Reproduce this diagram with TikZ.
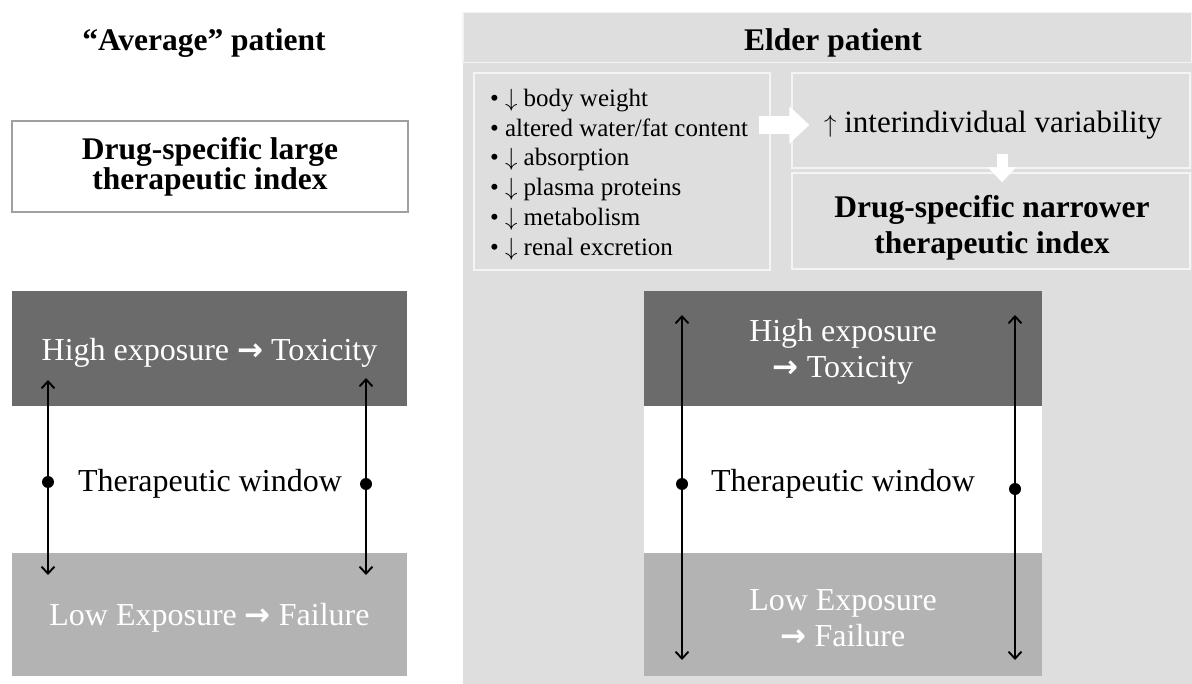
\documentclass[tikz,border=0pt]{standalone}
\usepackage{fontspec}
\setmainfont{Liberation Serif}
\newfontfamily\arrowfont{DejaVu Sans}
\usetikzlibrary{arrows.meta,calc}

\definecolor{darkband}{HTML}{6B6B6B}
\definecolor{lightband}{HTML}{B3B3B3}
\definecolor{panelgray}{HTML}{DEDEDE}
\definecolor{rimgray}{HTML}{F4F4F4}
\definecolor{framegray}{HTML}{A0A0A0}

\newcommand{\thickto}{{\arrowfont\bfseries\fontsize{31}{31}\selectfont →}}

\begin{document}
\begin{tikzpicture}[x=1pt,y=-1pt,
    >={Straight Barb[length=7pt,width=13pt]},
    txt/.style={font=\fontsize{32}{36}\selectfont,align=center,inner sep=0pt},
    whitetxt/.style={txt,text=white},
    titletext/.style={font=\fontsize{31.5}{37}\selectfont\bfseries,align=center,inner sep=0pt},
    band/.style={rectangle,inner sep=0pt,minimum width=#1},
    hiband/.style={band=#1,fill=darkband,minimum height=115},
    midband/.style={band=#1,fill=white,minimum height=147},
    loband/.style={band=#1,fill=lightband,minimum height=123},
    elderbox/.style={rectangle,draw=rimgray,line width=1.2pt,inner sep=0pt},
    rangearrow/.style={<->,line width=1.9pt},
    windot/.style={circle,fill=black,inner sep=0pt,minimum size=12pt},
    bigarrow/.style={white,line width=18pt,-{Triangle[length=20pt,width=36pt]}},
    downarrow/.style={white,line width=11pt,-{Triangle[length=15pt,width=27pt]}}]

  \useasboundingbox[fill=white] (0,0) rectangle (1192,684);

  % average patient
  \node[titletext] (avg) at (204,43) {``Average'' patient};
  \node[titletext,draw=framegray,line width=1.2pt,minimum width=396,minimum height=91,
        font=\fontsize{31.5}{28.5}\selectfont\bfseries] (large) at (210,166.5)
        {Drug-specific large\\therapeutic index};
  \node[hiband=395] (lhigh) at (209.5,348.5) {};
  \node[midband=395] (lwin) at (209.5,479.5) {};
  \node[loband=395] (llow) at (209.5,614.5) {};
  \node[whitetxt] (lhightxt) at ($(lhigh.center)+(0,4)$) {High exposure \thickto\ Toxicity};
  \node[txt] (lwintxt) at (210,484) {Therapeutic window};
  \node[whitetxt] (llowtxt) at ($(llow.center)+(0,3)$) {Low Exposure \thickto\ Failure};

  \coordinate (ltop1) at (48,380);  \coordinate (lbot1) at (48,575);
  \coordinate (ltop2) at (366,378); \coordinate (lbot2) at (366,575);
  \node[windot] (ldot1) at (48,482) {};
  \node[windot] (ldot2) at (366,484) {};
  \draw[rangearrow] (ltop1) -- (ldot1.center) -- (lbot1);
  \draw[rangearrow] (ltop2) -- (ldot2.center) -- (lbot2);

  % elder patient
  \fill[panelgray] (463,12) rectangle (1192,684);
  \node[elderbox,minimum width=729,minimum height=50] (elder) at (827.5,37.5) {};
  \node[titletext] (eldertxt) at (833,43) {Elder patient};
  \node[elderbox,minimum width=296,minimum height=197] (causes) at (622,171.5) {};
  \node[align=left,inner sep=0pt,font=\fontsize{25}{29.8}\selectfont] (causestxt)
        at ($(causes.center)+(-3,3)$)
        {\textbullet\ $\downarrow$ body weight\\
         \textbullet\ altered water/fat content\\
         \textbullet\ $\downarrow$ absorption\\
         \textbullet\ $\downarrow$ plasma proteins\\
         \textbullet\ $\downarrow$ metabolism\\
         \textbullet\ $\downarrow$ renal excretion};
  \node[elderbox,minimum width=398,minimum height=95] (vary) at (991,120.5) {};
  \node[txt,font=\fontsize{31}{36}\selectfont] (varytxt) at ($(vary.center)+(2,5)$)
        {$\uparrow$ interindividual variability};
  \node[elderbox,minimum width=398,minimum height=96] (narrow) at (991,221) {};
  \node[titletext,font=\fontsize{31.5}{36}\selectfont\bfseries] (narrowtxt) at ($(narrow.center)+(1,7)$)
        {Drug-specific narrower\\therapeutic index};
  \draw[bigarrow] ($(causes.east |- vary.west)+(-12,4.5)$) -- ($(vary.west)+(18,4.5)$);
  \draw[downarrow] ($(vary.south)+(11,-15)$) -- ($(narrow.north)+(11,10)$);

  \node[hiband=398] (rhigh) at (843,348.5) {};
  \node[midband=398] (rwin) at (843,479.5) {};
  \node[loband=398] (rlow) at (843,614.5) {};
  \node[whitetxt] (rhightxt) at ($(rhigh.center)+(0,3)$) {High exposure\\\thickto\ Toxicity};
  \node[txt] (rwintxt) at (843,484) {Therapeutic window};
  \node[whitetxt] (rlowtxt) at ($(rlow.center)+(0,4)$) {Low Exposure\\\thickto\ Failure};

  \coordinate (rtop1) at (682,315);  \coordinate (rbot1) at (682,660);
  \coordinate (rtop2) at (1015,315); \coordinate (rbot2) at (1015,660);
  \node[windot] (rdot1) at (682,484) {};
  \node[windot] (rdot2) at (1015,489) {};
  \draw[rangearrow] (rtop1) -- (rdot1.center) -- (rbot1);
  \draw[rangearrow] (rtop2) -- (rdot2.center) -- (rbot2);
\end{tikzpicture}
\end{document}
